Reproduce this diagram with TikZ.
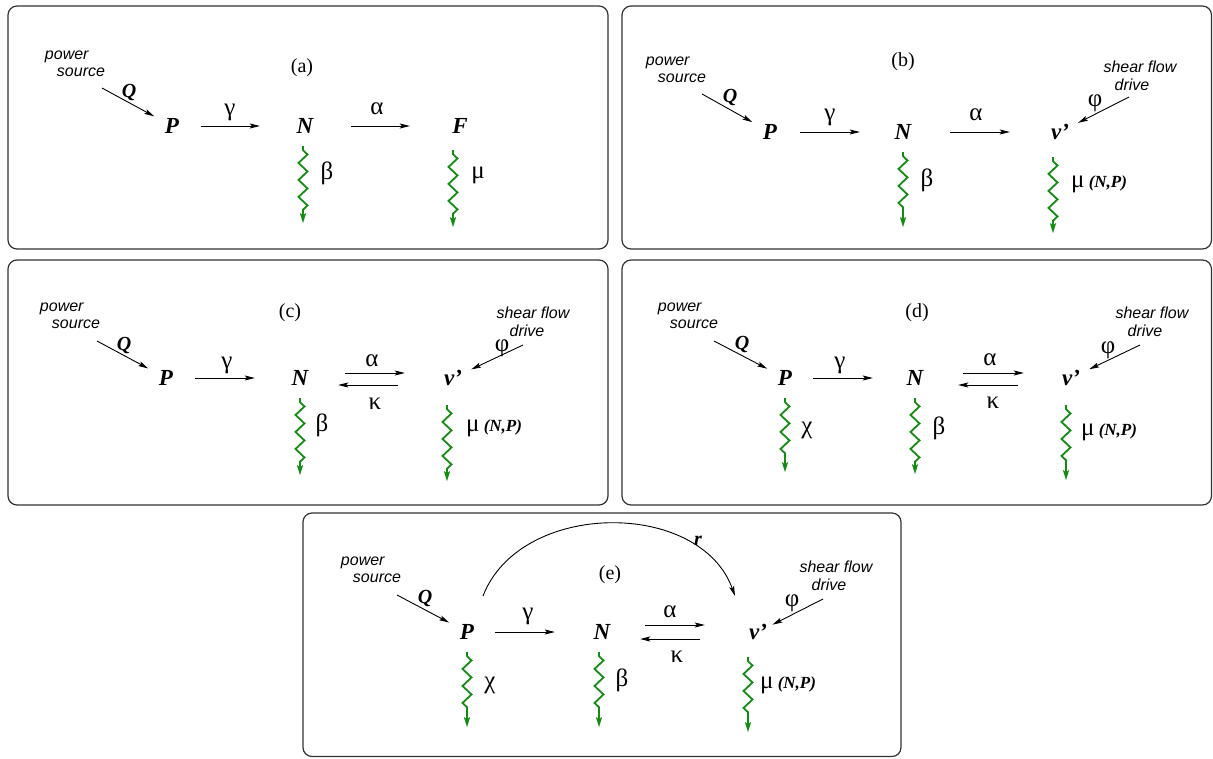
\documentclass[tikz,border=0pt]{standalone}
\usepackage{fontspec}
\setmainfont{Liberation Serif}
\newfontfamily\sansf{Liberation Sans}
\usetikzlibrary{arrows.meta,decorations.pathmorphing}
\definecolor{wgreen}{RGB}{20,140,20}
\newcommand{\npfont}{\fontsize{17}{17}\selectfont\bfseries\itshape}
\tikzset{
  panel/.style={draw=black!80, line width=1.2pt, rounded corners=9pt},
  var/.style={circle, minimum size=40pt, inner sep=0pt, font=\fontsize{23}{23}\selectfont\bfseries\itshape},
  gk/.style={inner sep=0pt, font=\fontsize{25}{25}\selectfont},
  lbl/.style={inner sep=0pt, font=\fontsize{20}{20}\selectfont},
  rate/.style={inner sep=0pt, font=\fontsize{20}{20}\selectfont\bfseries\itshape},
  src/.style={inner sep=0pt, align=left, font=\sansf\itshape\fontsize{16}{17}\selectfont},
  drv/.style={inner sep=0pt, align=center, font=\sansf\itshape\fontsize{16}{18}\selectfont},
  arr/.style={-{Stealth[length=10pt,width=5pt,inset=2pt]}, line width=0.9pt},
  wig/.style={wgreen, line width=1.8pt, decorate,
    decoration={zigzag, segment length=17pt, amplitude=4.5pt, pre length=4pt, post length=12pt},
    -{Stealth[length=10pt,width=6pt,inset=2pt]}}
}
\begin{document}
\begin{tikzpicture}[x=1pt,y=-1pt]
\path[use as bounding box] (0,0) rectangle (1213,758);
% panels
\draw[panel] (8,6) rectangle (608,249);
\draw[panel] (622,6) rectangle (1211.5,249);
\draw[panel] (8,260) rectangle (608,505);
\draw[panel] (622,260) rectangle (1211.5,505);
\draw[panel] (303,513) rectangle (901,756.5);

% ---------- (a)
\node[lbl] (aL) at (302,68) {(a)};
\node[src] (aS) at (75,64) {power\\\hspace*{12pt}source};
\node[var] (aP) at (172,126) {P};
\node[var] (aN) at (305,126) {N};
\node[var] (aF) at (460,126) {F};
\coordinate (aQ0) at (102,88);
\draw[arr] (aQ0) -- (aP);
\node[rate] (aQ) at (129,92) {Q};
\draw[arr, shorten <=9pt, shorten >=25pt] (aP) -- (aN);
\node[gk] (ag) at (230,112) {γ};
\draw[arr, shorten <=26pt, shorten >=30pt] (aN) -- (aF);
\node[gk] (aa) at (377,109) {α};
\draw[wig] ([xshift=-2pt]aN.south) -- ++(0,77);
\node[gk] (ab) at (327,173) {β};
\draw[wig] ([xshift=-7pt,yshift=-4pt]aF.south) -- ++(0,77);
\node[gk] (am) at (478,175) {μ};

% ---------- (b)
\node[lbl] (bL) at (903,62) {(b)};
\node[src] (bS) at (676,70) {power\\\hspace*{12pt}source};
\node[var] (bP) at (770,132) {P};
\node[var] (bN) at (903,132) {N};
\node[var] (bv) at (1060,132) {v’};
\coordinate (bQ0) at (702,94);
\draw[arr] (bQ0) -- (bP);
\node[rate] (bQ) at (730,97) {Q};
\draw[arr, shorten <=10pt, shorten >=23pt] (bP) -- (bN);
\node[gk] (bg) at (830,117) {γ};
\draw[arr, shorten <=27pt, shorten >=30pt] (bN) -- (bv);
\node[gk] (ba) at (976,115) {α};
\node[drv] (bD) at (1140,76) {shear flow\\drive\hspace*{16pt}};
\coordinate (bF0) at (1129,97);
\draw[arr] (bF0) -- (bv);
\node[gk] (bf) at (1095,103) {φ};
\draw[wig] (bN.south) -- ++(0,75);
\node[gk] (bb) at (927,180) {β};
\draw[wig] ([xshift=-7pt,yshift=-5pt]bv.south) -- ++(0,76);
\node[gk, anchor=base west] (bm) at (1071,187) {μ\,{\npfont (N,P)}};

% ---------- (c)
\node[lbl] (cL) at (290,313) {(c)};
\node[src] (cS) at (70,316) {power\\\hspace*{12pt}source};
\node[var] (cP) at (166,378) {P};
\node[var] (cN) at (300,378) {N};
\node[var] (cv) at (453,378) {v’};
\coordinate (cQ0) at (97,341);
\draw[arr] (cQ0) -- (cP);
\node[rate] (cQ) at (124,345) {Q};
\draw[arr, shorten <=9pt, shorten >=25pt] (cP) -- (cN);
\node[gk] (cg) at (227,365) {γ};
\draw[arr, shorten <=25pt, shorten >=28pt] ([yshift=5pt]cN.east) -- ([yshift=5pt]cv.west);
\node[gk] (ca) at (372,361) {α};
\draw[arr, shorten <=35pt, shorten >=18pt] ([yshift=-7pt]cv.west) -- ([yshift=-7pt]cN.east);
\node[gk] (ck) at (375,404) {κ};
\node[drv] (cD) at (533,322) {shear flow\\drive\hspace*{12pt}};
\coordinate (cF0) at (523,345);
\draw[arr] (cF0) -- (cv);
\node[gk] (cf) at (502,348) {φ};
\draw[wig] (cN.south) -- ++(0,77);
\node[gk] (cb) at (322,425) {β};
\draw[wig] ([xshift=-6pt,yshift=-7pt]cv.south) -- ++(0,76);
\node[gk, anchor=base west] (cm) at (466,431) {μ\,{\npfont (N,P)}};

% ---------- (d)
\node[lbl] (dL) at (917,313) {(d)};
\node[src] (dS) at (688,316) {power\\\hspace*{12pt}source};
\node[var] (dP) at (785,378) {P};
\node[var] (dN) at (915,378) {N};
\node[var] (dv) at (1071,378) {v’};
\coordinate (dQ0) at (714,341);
\draw[arr] (dQ0) -- (dP);
\node[rate] (dQ) at (742,344) {Q};
\draw[arr, shorten <=8pt, shorten >=22pt] (dP) -- (dN);
\node[gk] (dg) at (840,365) {γ};
\draw[arr, shorten <=28pt, shorten >=27pt] ([yshift=5pt]dN.east) -- ([yshift=5pt]dv.west);
\node[gk] (da) at (990,360) {α};
\draw[arr, shorten <=33pt, shorten >=23pt] ([yshift=-7pt]dv.west) -- ([yshift=-7pt]dN.east);
\node[gk] (dk) at (993,403) {κ};
\node[drv] (dD) at (1152,322) {shear flow\\drive\hspace*{14pt}};
\coordinate (dF0) at (1140,345);
\draw[arr] (dF0) -- (dv);
\node[gk] (df) at (1108,350) {φ};
\draw[wig] (dP.south) -- ++(0,74);
\node[gk] (dc) at (807,430) {χ};
\draw[wig] (dN.south) -- ++(0,76);
\node[gk] (db) at (939,428) {β};
\draw[wig] ([xshift=-5pt,yshift=-7pt]dv.south) -- ++(0,75);
\node[gk, anchor=base west] (dm) at (1081,435) {μ\,{\npfont (N,P)}};

% ---------- (e)
\node[lbl] (eL) at (610,575) {(e)};
\node[src] (eS) at (371,570) {power\\\hspace*{12pt}source};
\node[var] (eP) at (467,632) {P};
\node[var] (eN) at (602,632) {N};
\node[var] (ev) at (758,632) {v’};
\coordinate (eQ0) at (397,595);
\draw[arr] (eQ0) -- (eP);
\node[rate] (eQ) at (425,598) {Q};
\draw[arr, shorten <=8pt, shorten >=27pt] (eP) -- (eN);
\node[gk] (eg) at (528,616) {γ};
\draw[arr, shorten <=23pt, shorten >=33pt] ([yshift=7pt]eN.east) -- ([yshift=7pt]ev.west);
\node[gk] (ea) at (670,612) {α};
\draw[arr, shorten <=38pt, shorten >=18pt] ([yshift=-7pt]ev.west) -- ([yshift=-7pt]eN.east);
\node[gk] (ek) at (677,657) {κ};
\node[drv] (eD) at (836,576) {shear flow\\drive\hspace*{14pt}};
\coordinate (eF0) at (823,599);
\draw[arr, shorten >=-4pt] (eF0) -- (ev);
\node[gk] (ef) at (792,603) {φ};
\draw[arr] ([shift={(16pt,36pt)}]eP.center) .. controls +(37,-96) and +(-35,-97) .. ([shift={(-23pt,36pt)}]ev.center);
\node[rate] (er) at (698,541) {r};
\draw[wig] (eP.south) -- ++(0,75);
\node[gk] (ec) at (490,685) {χ};
\draw[wig] ([xshift=-3pt]eN.south) -- ++(0,75);
\node[gk] (eb) at (622,680) {β};
\draw[wig] ([xshift=-10pt,yshift=-5pt]ev.south) -- ++(0,75);
\node[gk, anchor=base west] (em) at (760,688) {μ\,{\npfont (N,P)}};
\end{tikzpicture}
\end{document}
